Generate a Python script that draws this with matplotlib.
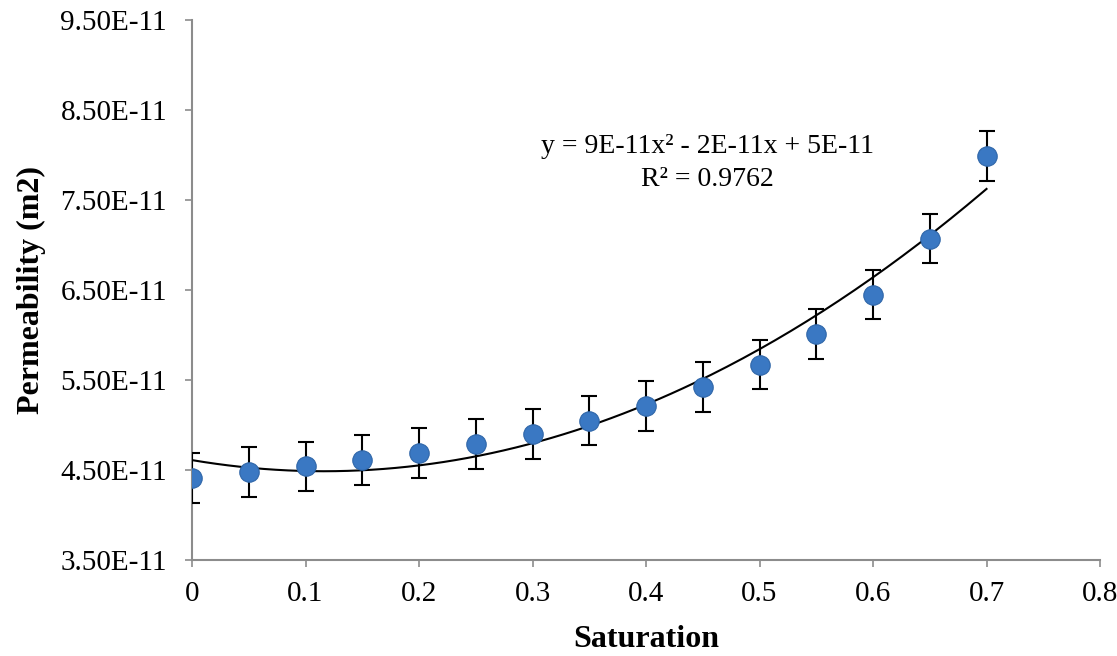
import matplotlib.pyplot as plt
import numpy as np

plt.rcParams['font.family'] = ['Liberation Serif', 'DejaVu Serif']

# data
saturation = [0, 0.05, 0.1, 0.15, 0.2, 0.25, 0.3, 0.35, 0.4, 0.45, 0.5, 0.55, 0.6, 0.65, 0.7]
permeability = [4.41e-11, 4.48e-11, 4.54e-11, 4.61e-11, 4.69e-11, 4.79e-11, 4.90e-11, 5.05e-11,
                5.21e-11, 5.42e-11, 5.67e-11, 6.01e-11, 6.45e-11, 7.07e-11, 7.99e-11]
err = 2.75e-12
yticks = [3.5e-11, 4.5e-11, 5.5e-11, 6.5e-11, 7.5e-11, 8.5e-11, 9.5e-11]
ytick_labels = ['3.50E-11', '4.50E-11', '5.50E-11', '6.50E-11', '7.50E-11', '8.50E-11', '9.50E-11']
xticks = [0, 0.1, 0.2, 0.3, 0.4, 0.5, 0.6, 0.7, 0.8]
xtick_labels = ['0', '0.1', '0.2', '0.3', '0.4', '0.5', '0.6', '0.7', '0.8']

fig = plt.figure(figsize=(11.17, 6.56), dpi=100)
ax = fig.add_axes([0.1719, 0.1463, 0.8129, 0.8232])

# quadratic trendline
coef = np.polyfit(saturation, permeability, 2)
xs = np.linspace(0, 0.7, 200)
ax.plot(xs, np.polyval(coef, xs), color='black', linewidth=1.5, zorder=2)

ax.errorbar(saturation, permeability, yerr=err, fmt='none', ecolor='black',
            elinewidth=1.5, capsize=6, capthick=1.5, zorder=3)
ax.plot(saturation, permeability, 'o', color='#3A78C3', markersize=14,
        markeredgecolor='#2F66A8', markeredgewidth=0.8, zorder=4)

ax.set_xlim(0, 0.8)
ax.set_ylim(3.5e-11, 9.5e-11)
ax.set_xticks(xticks)
ax.set_xticklabels(xtick_labels)
ax.set_yticks(yticks)
ax.set_yticklabels(ytick_labels)
ax.tick_params(labelsize=21, colors='black', length=5, width=1.2, color='#8c8c8c')
ax.tick_params(axis='y', pad=13)
ax.tick_params(axis='x', pad=10)

for s in ['top', 'right']:
    ax.spines[s].set_visible(False)
for s in ['left', 'bottom']:
    ax.spines[s].set_color('#8c8c8c')
    ax.spines[s].set_linewidth(1.5)

ax.set_xlabel('Saturation', fontsize=23, fontweight='bold', labelpad=13)
ax.set_ylabel('Permeability (m2)', fontsize=23, fontweight='bold', labelpad=10)

ax.text(0.568, 0.765, 'y = 9E-11x² - 2E-11x + 5E-11', transform=ax.transAxes,
        ha='center', va='center', fontsize=20)
ax.text(0.568, 0.704, 'R² = 0.9762', transform=ax.transAxes,
        ha='center', va='center', fontsize=20)

fig.savefig('out.png', dpi=100)
